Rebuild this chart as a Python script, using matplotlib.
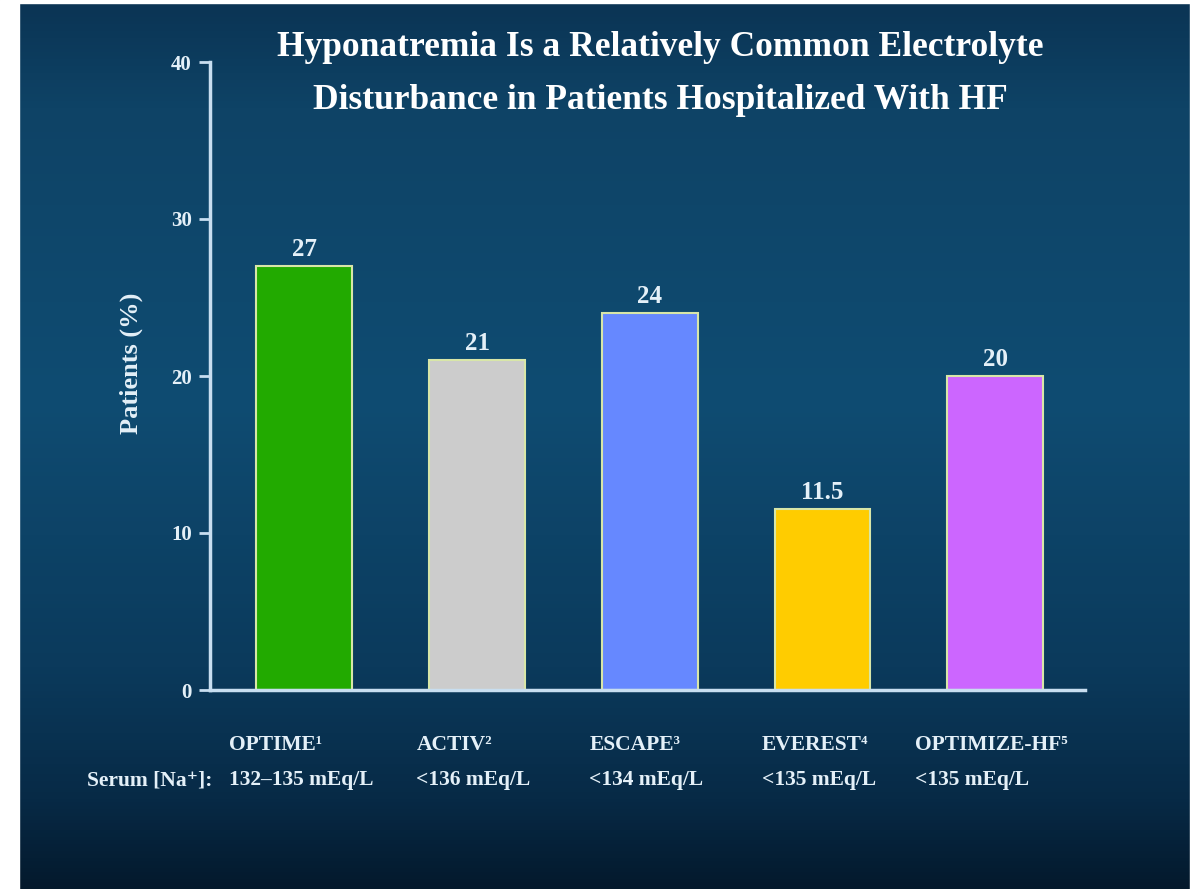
import numpy as np
import matplotlib.pyplot as plt
from matplotlib.colors import LinearSegmentedColormap
from matplotlib.patches import Rectangle

studies = ['OPTIME\u00b9', 'ACTIV\u00b2', 'ESCAPE\u00b3', 'EVEREST\u2074', 'OPTIMIZE-HF\u2075']
serum = ['132\u2013135 mEq/L', '<136 mEq/L', '<134 mEq/L', '<135 mEq/L', '<135 mEq/L']
patients = [27, 21, 24, 11.5, 20]
value_labels = ['27', '21', '24', '11.5', '20']
colors = ['#22aa00', '#cccccc', '#6688ff', '#ffcc00', '#cc66ff']

SERIF = ['Liberation Serif', 'DejaVu Serif']
TXT = '#e4f0f8'

fig = plt.figure(figsize=(11.94, 8.89), dpi=100)

# background gradient
bg = fig.add_axes([0, 0, 1, 1], zorder=-10)
cmap = LinearSegmentedColormap.from_list(
    'bg', [(0.0, '#0b3454'), (0.12, '#0e4366'), (0.45, '#0f4c72'),
           (0.75, '#0b3a5c'), (0.9, '#072a46'), (1.0, '#04192c')])
bg.imshow(np.linspace(0, 1, 256).reshape(-1, 1), aspect='auto', cmap=cmap,
          extent=[0, 1, 0, 1], origin='upper')
bg.add_patch(Rectangle((0, 0), 19 / 1194, 1, color='white'))
bg.add_patch(Rectangle((1 - 4 / 1194, 0), 4 / 1194, 1, color='white'))
bg.add_patch(Rectangle((0, 1 - 3 / 889), 1, 3 / 889, color='white'))
bg.set_xlim(0, 1)
bg.set_ylim(0, 1)
bg.axis('off')

ax = fig.add_axes([210 / 1194, 1 - 690 / 889, 875 / 1194, 628 / 889])
ax.patch.set_alpha(0)
x = np.arange(len(studies))
ax.bar(x, patients, width=0.555, color=colors, edgecolor='#d8e6a8', linewidth=1.5)
for xi, v, lab in zip(x, patients, value_labels):
    ax.text(xi, v + 0.35, lab, ha='center', va='bottom', color=TXT,
            fontsize=18, fontweight='bold', family=SERIF)

ax.set_xlim(-0.546, 4.52)
ax.set_ylim(0, 40)
ax.set_yticks([0, 10, 20, 30, 40])
ax.tick_params(axis='y', colors='#c8def0', length=8, width=2, pad=5,
               labelsize=15, labelcolor=TXT)
for t in ax.get_yticklabels():
    t.set_family(SERIF)
    t.set_fontweight('bold')
ax.set_xticks(x)
ax.set_xticklabels([])
ax.tick_params(axis='x', length=0)

# study names and serum sodium thresholds under the bars
xt = ax.get_xaxis_transform()
for xi, s, r in zip(x, studies, serum):
    ax.text(xi - 0.02, -0.1155, f'{s}\n{r}', transform=xt, ha='center', va='center',
            multialignment='left', family=SERIF, fontweight='bold',
            fontsize=15.5, color=TXT, linespacing=1.95)

for side in ['top', 'right']:
    ax.spines[side].set_visible(False)
for side in ['left', 'bottom']:
    ax.spines[side].set_color('#c8def0')
    ax.spines[side].set_linewidth(2.5)

ax.set_ylabel('Patients (%)', color=TXT, fontsize=19, fontweight='bold',
              family=SERIF)
ax.yaxis.set_label_coords(-0.077, 0.52)

fig.text(212 / 1194, 1 - 781 / 889, 'Serum [Na\u207a]:', ha='right', va='center',
         color=TXT, fontsize=15.5, fontweight='bold', family=SERIF)

fig.text(660 / 1194, 1 - 74 / 889,
         'Hyponatremia Is a Relatively Common Electrolyte\n'
         'Disturbance in Patients Hospitalized With HF',
         ha='center', va='center', color='white', fontsize=25.5,
         fontweight='bold', family=SERIF, linespacing=1.8)

fig.savefig('out.png', dpi=100)
